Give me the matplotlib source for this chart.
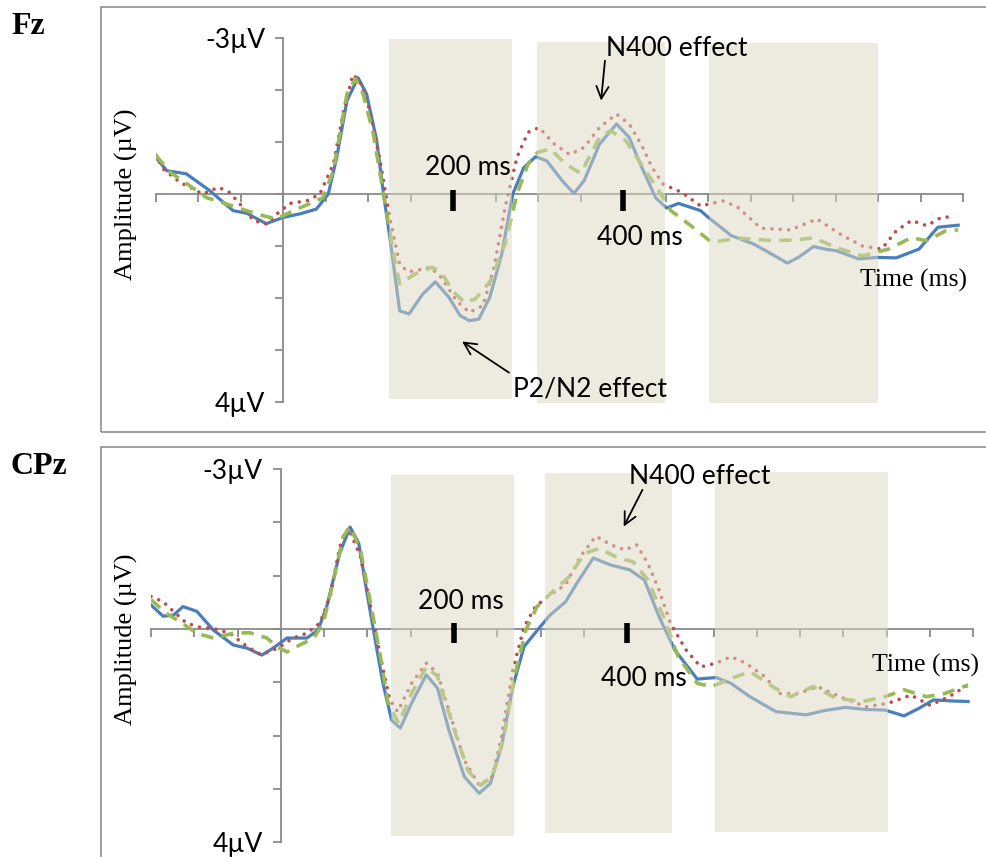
import matplotlib.pyplot as plt
from matplotlib.patches import Rectangle

# ERP waveforms, time in ms, amplitude in microvolts (negative up)
fz_blue_t = [-150, -137, -114, -86, -59, -43, -20, 0, 20, 39, 53, 63, 75, 88, 98, 110, 118, 126, 137, 148,
             164, 179, 195, 208, 219, 230, 243, 257, 270, 283, 297, 310, 328, 342, 354, 372, 392, 407, 420,
             438, 451, 465, 491, 500, 527, 553, 575, 593, 606, 624, 637, 650, 677, 699, 721, 748, 770, 794]
fz_blue_v = [-0.71, -0.45, -0.39, -0.06, 0.32, 0.37, 0.57, 0.45, 0.38, 0.29, 0.0, -0.71, -1.8, -2.24, -1.93,
             -1.03, 0.0, 0.9, 2.25, 2.31, 1.93, 1.69, 1.99, 2.34, 2.44, 2.41, 1.99, 1.16, 0.0, -0.51, -0.72,
             -0.64, -0.26, -0.01, -0.26, -0.96, -1.35, -1.09, -0.58, 0.07, 0.27, 0.18, 0.32, 0.45, 0.8, 0.96,
             1.16, 1.33, 1.22, 1.01, 1.06, 1.09, 1.25, 1.22, 1.23, 1.06, 0.64, 0.6]
fz_red_t = [-150, -141, -121, -106, -95, -76, -63, -51, -35, -19, -8, 8, 28, 43, 59, 71, 82, 90, 102, 114,
            126, 137, 147, 155, 173, 186, 204, 219, 235, 248, 261, 275, 288, 301, 319, 337, 354, 372, 392,
            407, 421, 434, 447, 469, 491, 518, 535, 562, 597, 628, 655, 681, 704, 721, 739, 757, 774, 785]
fz_red_v = [-0.75, -0.48, -0.22, -0.1, 0.0, -0.13, -0.03, 0.19, 0.51, 0.58, 0.39, 0.18, 0.13, 0.0, -0.58,
            -1.6, -2.3, -2.18, -1.6, -0.64, 0.51, 1.35, 1.5, 1.48, 1.41, 1.61, 2.06, 2.28, 2.15, 1.41, 0.26,
            -0.71, -1.19, -1.28, -0.96, -0.76, -0.9, -1.28, -1.54, -1.35, -0.96, -0.51, -0.19, -0.03, 0.23,
            0.13, 0.26, 0.66, 0.69, 0.48, 0.77, 1.0, 1.06, 0.71, 0.51, 0.61, 0.45, 0.44]
fz_green_t = [-150, -133, -110, -90, -67, -43, -23, -8, 12, 32, 47, 59, 75, 85, 94, 106, 118, 130, 137, 155,
              175, 186, 199, 213, 226, 244, 261, 275, 288, 299, 314, 332, 350, 372, 385, 403, 421, 443, 456,
              482, 504, 535, 571, 602, 624, 650, 681, 712, 739, 757, 779, 794]
fz_green_v = [-0.75, -0.42, -0.16, 0.07, 0.19, 0.32, 0.42, 0.48, 0.32, 0.18, 0.07, -0.45, -1.93, -2.22, -1.93,
              -1.16, 0.0, 1.16, 1.73, 1.54, 1.41, 1.51, 1.86, 2.09, 2.02, 1.67, 0.96, 0.0, -0.58, -0.8, -0.87,
              -0.58, -0.4, -1.09, -1.22, -1.03, -0.58, -0.03, 0.32, 0.64, 0.93, 0.85, 0.89, 0.89, 0.84, 1.03,
              1.19, 1.06, 0.84, 0.9, 0.71, 0.69]

cpz_blue_t = [-150, -136, -124, -113, -97, -78, -55, -39, -22, -9, 7, 30, 43, 53, 68, 80, 90, 99, 107, 118,
              128, 138, 151, 168, 181, 194, 212, 229, 242, 255, 268, 281, 298, 311, 329, 342, 361, 381, 403,
              420, 437, 455, 481, 503, 520, 542, 572, 607, 628, 652, 676, 698, 720, 737, 754, 776, 794]
cpz_blue_v = [-0.45, -0.24, -0.26, -0.42, -0.33, 0.02, 0.3, 0.36, 0.49, 0.36, 0.17, 0.17, 0.02, -0.42, -1.42,
              -1.91, -1.61, -0.73, 0.02, 1.02, 1.71, 1.86, 1.39, 0.86, 1.11, 1.89, 2.77, 3.08, 2.9, 2.2, 1.08,
              0.33, -0.01, -0.26, -0.51, -0.86, -1.33, -1.2, -1.11, -0.92, -0.23, 0.39, 0.94, 0.91, 1.02, 1.27,
              1.55, 1.61, 1.53, 1.47, 1.51, 1.52, 1.63, 1.49, 1.33, 1.35, 1.36]
cpz_red_t = [-150, -136, -124, -109, -93, -78, -59, -39, -24, -13, -1, 14, 30, 45, 57, 68, 78, 92, 103, 115,
             126, 135, 151, 168, 181, 194, 212, 229, 244, 255, 268, 281, 294, 311, 329, 346, 364, 381, 398,
             411, 424, 437, 450, 468, 485, 503, 520, 537, 559, 576, 598, 620, 646, 676, 702, 728, 750, 772, 794]
cpz_red_v = [-0.61, -0.51, -0.33, -0.11, -0.03, -0.01, 0.08, 0.33, 0.47, 0.43, 0.33, 0.17, 0.08, -0.11, -0.61,
             -1.54, -1.89, -1.36, -0.48, 0.52, 1.33, 1.55, 1.02, 0.64, 0.83, 1.52, 2.46, 2.93, 2.77, 2.02, 0.77,
             -0.04, -0.42, -0.64, -0.83, -1.36, -1.74, -1.58, -1.48, -1.58, -1.23, -0.73, -0.11, 0.39, 0.71,
             0.64, 0.52, 0.64, 0.89, 1.21, 1.21, 1.08, 1.27, 1.46, 1.39, 1.24, 1.43, 1.27, 1.05]
cpz_green_t = [-150, -132, -117, -97, -78, -55, -36, -16, -5, 7, 22, 38, 49, 61, 72, 80, 92, 103, 115, 124,
               136, 151, 168, 181, 198, 216, 231, 244, 257, 270, 283, 296, 316, 333, 351, 368, 390, 407, 424,
               442, 459, 481, 498, 520, 542, 568, 589, 615, 642, 672, 698, 720, 746, 767, 794]
cpz_green_v = [-0.55, -0.29, -0.14, 0.08, 0.17, 0.08, 0.07, 0.17, 0.33, 0.43, 0.3, 0.17, -0.11, -0.92, -1.73,
               -1.92, -1.48, -0.54, 0.52, 1.39, 1.77, 1.21, 0.71, 0.89, 1.77, 2.65, 2.93, 2.77, 2.08, 0.89,
               0.02, -0.42, -0.73, -0.98, -1.42, -1.51, -1.33, -1.26, -0.92, -0.23, 0.52, 1.02, 1.08, 0.93, 0.8,
               1.08, 1.27, 1.08, 1.3, 1.36, 1.27, 1.14, 1.27, 1.21, 1.05]

# analysis windows (ms) and their vertical extent (uV)
fz_windows = [(125, 269, -2.99, 3.94), (299, 449, -2.93, 4.02), (501, 700, -2.91, 4.03)]
cpz_windows = [(127, 269, -2.89, 3.88), (305, 452, -2.92, 3.83), (502, 701, -2.94, 3.81)]
marker_times = [200, 400]

SANS = 'Lato'
SERIF = 'Liberation Serif'
GREY = '#8a8a8a'
BLUE = '#4a7ebb'
RED = '#be4b48'
GREEN = '#98b954'

fig = plt.figure(figsize=(9.87, 8.57), dpi=100)
W, H = 987.0, 857.0


def px_axes(x0, x1, y0, y1):
    return fig.add_axes([x0 / W, 1 - y1 / H, (x1 - x0) / W, (y1 - y0) / H])


def draw_panel(ax, blue, red, green, windows, lab):
    ax.patch.set_alpha(0)
    ax.set_xlim(-150, 800)
    ax.set_ylim(4, -3)
    for s in ['top', 'right']:
        ax.spines[s].set_visible(False)
    ax.spines['left'].set_position(('data', 0))
    ax.spines['bottom'].set_position(('data', 0))
    for s in ['left', 'bottom']:
        ax.spines[s].set_color(GREY)
        ax.spines[s].set_linewidth(1.3)
    ax.set_xticks(range(-150, 801, 50))
    ax.set_xticklabels([])
    ax.set_yticks(range(-3, 5))
    ax.set_yticklabels(['-3µV', '', '', '', '', '', '', '4µV'], family=SANS, fontsize=19)
    ax.tick_params(axis='both', direction='out', length=6, width=1.3, color=GREY)
    ax.tick_params(axis='y', pad=7)

    ax.plot(blue[0], blue[1], color=BLUE, lw=2.3, solid_joinstyle='round', zorder=4)
    ax.plot(red[0], red[1], color=RED, lw=2.6, ls=(0, (0.01, 2.3)),
            dash_capstyle='round', zorder=4)
    ax.plot(green[0], green[1], color=GREEN, lw=2.6, ls=(0, (3.4, 2.3)),
            dash_joinstyle='round', zorder=4)

    for t0, t1, v0, v1 in windows:
        ax.add_patch(Rectangle((t0, v0), t1 - t0, v1 - v0, facecolor='#ddd9c3',
                               edgecolor='none', alpha=0.5, zorder=5, clip_on=False))

    for t in marker_times:
        ax.plot([t, t], [lab['mk'][0], lab['mk'][1]], color='black', lw=4,
                solid_capstyle='butt', zorder=6, clip_on=False)

    ax.text(*lab['t200'], '200 ms', family=SANS, fontsize=19, ha='center', va='center', zorder=7)
    ax.text(*lab['t400'], '400 ms', family=SANS, fontsize=19, ha='center', va='center', zorder=7)
    ax.text(*lab['time'], 'Time (ms)', family=SERIF, fontsize=18.5, ha='center', va='center', zorder=7)
    ax.text(*lab['n400'], 'N400 effect', family=SANS, fontsize=19, ha='center', va='center',
            zorder=7, clip_on=False)
    ax.annotate('', xy=lab['n400_arrow'][1], xytext=lab['n400_arrow'][0], zorder=7,
                arrowprops=dict(arrowstyle='->', lw=1.3, color='black', mutation_scale=22,
                                shrinkA=0, shrinkB=0))


# outer frames
fig.add_artist(Rectangle((101 / W, 1 - 432 / H), 1.0, (432 - 7) / H, transform=fig.transFigure,
                         fill=False, edgecolor='#8f8f8f', lw=1.2))
fig.add_artist(Rectangle((101 / W, -0.1), 1.0, 1 - 447 / H + 0.1, transform=fig.transFigure,
                         fill=False, edgecolor='#8f8f8f', lw=1.2))

ax1 = px_axes(155.7, 963.3, 38.3, 401.7)
draw_panel(ax1, (fz_blue_t, fz_blue_v), (fz_red_t, fz_red_v), (fz_green_t, fz_green_v), fz_windows,
           dict(mk=(-0.08, 0.32), t200=(217, -0.51), t400=(420, 0.84), time=(742, 1.67),
                n400=(463, -2.8), n400_arrow=((378.5, -2.57), (373.9, -1.8))))
ax1.text(361, 3.75, 'P2/N2 effect', family=SANS, fontsize=19, ha='center', va='center',
         zorder=7, clip_on=False)
ax1.annotate('', xy=(210.4, 2.84), xytext=(265.6, 3.44), zorder=7,
             arrowprops=dict(arrowstyle='->', lw=1.3, color='black', mutation_scale=22,
                             shrinkA=0, shrinkB=0))

ax2 = px_axes(151.0, 973.3, 469.0, 842.3)
draw_panel(ax2, (cpz_blue_t, cpz_blue_v), (cpz_red_t, cpz_red_v), (cpz_green_t, cpz_green_v), cpz_windows,
           dict(mk=(-0.11, 0.27), t200=(208, -0.51), t400=(419, 0.92), time=(745, 0.68),
                n400=(484, -2.86), n400_arrow=((417.8, -2.61), (396.1, -1.92))))

fig.text(126.7 / W, 1 - 194 / H, 'Amplitude (µV)', family=SERIF, fontsize=19, rotation=90,
         ha='center', va='center')
fig.text(126.7 / W, 1 - 639 / H, 'Amplitude (µV)', family=SERIF, fontsize=19, rotation=90,
         ha='center', va='center')
fig.text(11 / W, 1 - 27 / H, 'Fz', family=SERIF, fontsize=23, fontweight='bold', ha='left', va='center')
fig.text(11 / W, 1 - 467 / H, 'CPz', family=SERIF, fontsize=23, fontweight='bold', ha='left', va='center')

fig.savefig('out.png', dpi=100)
